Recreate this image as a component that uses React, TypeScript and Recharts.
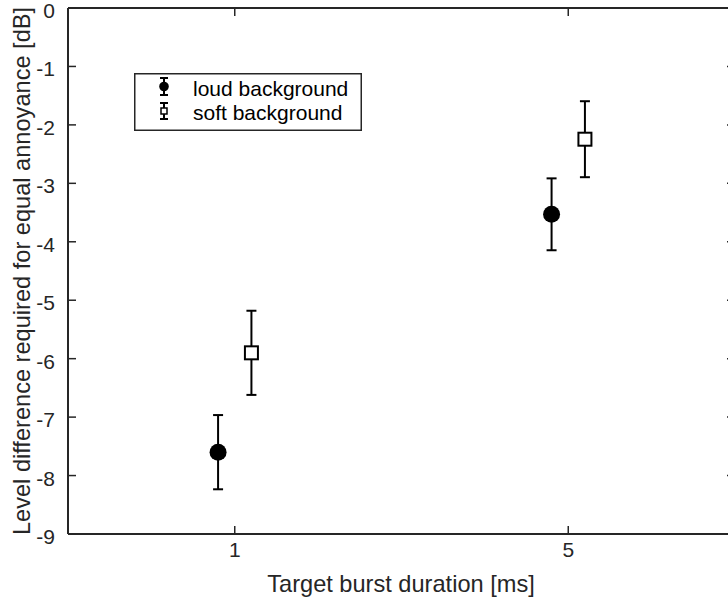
import React from 'react';
import { ScatterChart, Scatter, XAxis, YAxis, ErrorBar, Legend } from 'recharts';

const categories = ['1', '5'];
const loudMeans = [-7.6, -3.53];
const loudErrors = [0.635, 0.615];
const softMeans = [-5.9, -2.245];
const softErrors = [0.72, 0.65];
const yTicks = [0, -1, -2, -3, -4, -5, -6, -7, -8, -9];
const xTicks = [1, 2];
const seriesNames = ['loud background', 'soft background'];
const xTitle = 'Target burst duration [ms]';
const yTitle = 'Level difference required for equal annoyance [dB]';

const OFFSET = 0.05;
const loudData = categories.map((c, i) => ({ x: i + 1 - OFFSET, y: loudMeans[i], err: loudErrors[i] }));
const softData = categories.map((c, i) => ({ x: i + 1 + OFFSET, y: softMeans[i], err: softErrors[i] }));

const AXIS = '#262626';
const FONT = '"Liberation Sans", Arial, Helvetica, sans-serif';
const TICK_LEN = 8;
const TICK_FONT = 21;
const TITLE_FONT = 23.6;

const CircleShape = (p: any) => <circle cx={p.cx} cy={p.cy} r={8.5} fill="#000" />;
const SquareShape = (p: any) => (
  <rect x={p.cx - 6.5} y={p.cy - 6.5} width={13} height={13} fill="#fff" stroke="#000" strokeWidth={2} />
);

const LEFT_MARGIN = 13;
const LeftTick = (p: any) => (
  <g>
    <line x1={p.x + LEFT_MARGIN} x2={p.x + LEFT_MARGIN + TICK_LEN} y1={p.y} y2={p.y} stroke={AXIS} strokeWidth={1.5} />
    <text x={p.x} y={p.y + 2.5} dy="0.355em" textAnchor="end" fontSize={TICK_FONT} fill={AXIS} fontFamily={FONT}>
      {p.payload.value}
    </text>
  </g>
);

const BOTTOM_MARGIN = 8;
const BottomTick = (p: any) => (
  <g>
    <line x1={p.x} x2={p.x} y1={p.y - BOTTOM_MARGIN} y2={p.y - BOTTOM_MARGIN - TICK_LEN} stroke={AXIS} strokeWidth={1.5} />
    <text x={p.x} y={p.y} dy="0.71em" textAnchor="middle" fontSize={TICK_FONT} fill={AXIS} fontFamily={FONT}>
      {categories[Math.round(p.payload.value) - 1]}
    </text>
  </g>
);

const TopTick = (p: any) => (
  <line x1={p.x} x2={p.x} y1={p.y} y2={p.y + TICK_LEN} stroke={AXIS} strokeWidth={1.5} />
);

const RightTick = (p: any) => (
  <line x1={p.x} x2={p.x - TICK_LEN} y1={p.y} y2={p.y} stroke={AXIS} strokeWidth={1.5} />
);

const LegendContent = () => (
  <svg width={228} height={58} style={{ display: 'block', fontFamily: FONT }}>
    <rect x={0.75} y={0.75} width={226.5} height={56.5} fill="#fff" stroke={AXIS} strokeWidth={1.5} />
    <g stroke="#000" strokeWidth={2}>
      <line x1={30} y1={5} x2={30} y2={22} />
      <line x1={26} y1={5} x2={34} y2={5} />
      <line x1={26} y1={22} x2={34} y2={22} />
    </g>
    <circle cx={30} cy={13.5} r={4.8} fill="#000" />
    <g stroke="#000" strokeWidth={2}>
      <line x1={30} y1={30} x2={30} y2={46} />
      <line x1={26} y1={30} x2={34} y2={30} />
      <line x1={26} y1={46} x2={34} y2={46} />
    </g>
    <rect x={27} y={35} width={6} height={6} fill="#fff" stroke="#000" strokeWidth={1.5} />
    <text x={59} y={23} fontSize={TICK_FONT} fill="#000">{seriesNames[0]}</text>
    <text x={59} y={47} fontSize={TICK_FONT} fill="#000">{seriesNames[1]}</text>
  </svg>
);

export default function App() {
  return (
    <div style={{ position: 'absolute', left: 0, top: 0, width: 728, height: 600, overflow: 'hidden', background: '#fff' }}>
      <ScatterChart
        width={740}
        height={600}
        margin={{ top: 7, right: 0, bottom: 36, left: 0 }}
        style={{ fontFamily: FONT }}
      >
        <XAxis
          xAxisId="t"
          orientation="top"
          type="number"
          dataKey="x"
          domain={[0.5, 2.5]}
          ticks={xTicks}
          interval={0}
          height={1}
          tick={TopTick}
          tickSize={0}
          tickMargin={0}
          tickLine={false}
          axisLine={{ stroke: AXIS, strokeWidth: 2 }}
          allowDataOverflow
        />
        <XAxis
          xAxisId="b"
          orientation="bottom"
          type="number"
          dataKey="x"
          domain={[0.5, 2.5]}
          ticks={xTicks}
          interval={0}
          height={30}
          tick={BottomTick}
          tickSize={0}
          tickMargin={BOTTOM_MARGIN}
          tickLine={false}
          axisLine={{ stroke: AXIS, strokeWidth: 2 }}
          allowDataOverflow
          label={{
            content: () => (
              <text x={401} y={592} textAnchor="middle" fontSize={TITLE_FONT} fill={AXIS} fontFamily={FONT}>
                {xTitle}
              </text>
            ),
          }}
        />
        <YAxis
          yAxisId="l"
          orientation="left"
          type="number"
          dataKey="y"
          domain={[-9, 0]}
          ticks={yTicks}
          interval={0}
          width={68}
          tick={LeftTick}
          tickSize={0}
          tickMargin={LEFT_MARGIN}
          tickLine={false}
          axisLine={{ stroke: AXIS, strokeWidth: 2 }}
          allowDataOverflow
          label={{
            content: () => (
              <text
                transform="translate(30,271) rotate(-90)"
                x={0}
                y={0}
                textAnchor="middle"
                fontSize={TITLE_FONT}
                fill={AXIS}
                fontFamily={FONT}
              >
                {yTitle}
              </text>
            ),
          }}
        />
        <YAxis
          yAxisId="r"
          orientation="right"
          type="number"
          dataKey="y"
          domain={[-9, 0]}
          ticks={yTicks}
          interval={0}
          width={5}
          tick={RightTick}
          tickSize={0}
          tickMargin={0}
          tickLine={false}
          axisLine={{ stroke: AXIS, strokeWidth: 2 }}
          allowDataOverflow
        />
        <Legend
          layout="horizontal"
          verticalAlign="middle"
          align="center"
          wrapperStyle={{ position: 'absolute', left: 134, top: 73, width: 228, height: 58 }}
          content={LegendContent}
        />
        <Scatter
          name={seriesNames[0]}
          data={loudData}
          xAxisId="b"
          yAxisId="l"
          shape={CircleShape}
          isAnimationActive={false}
        >
          <ErrorBar dataKey="err" direction="y" width={5} stroke="#000" strokeWidth={2} isAnimationActive={false} />
        </Scatter>
        <Scatter
          name={seriesNames[1]}
          data={softData}
          xAxisId="b"
          yAxisId="l"
          shape={SquareShape}
          isAnimationActive={false}
        >
          <ErrorBar dataKey="err" direction="y" width={5} stroke="#000" strokeWidth={2} isAnimationActive={false} />
        </Scatter>
      </ScatterChart>
    </div>
  );
}
